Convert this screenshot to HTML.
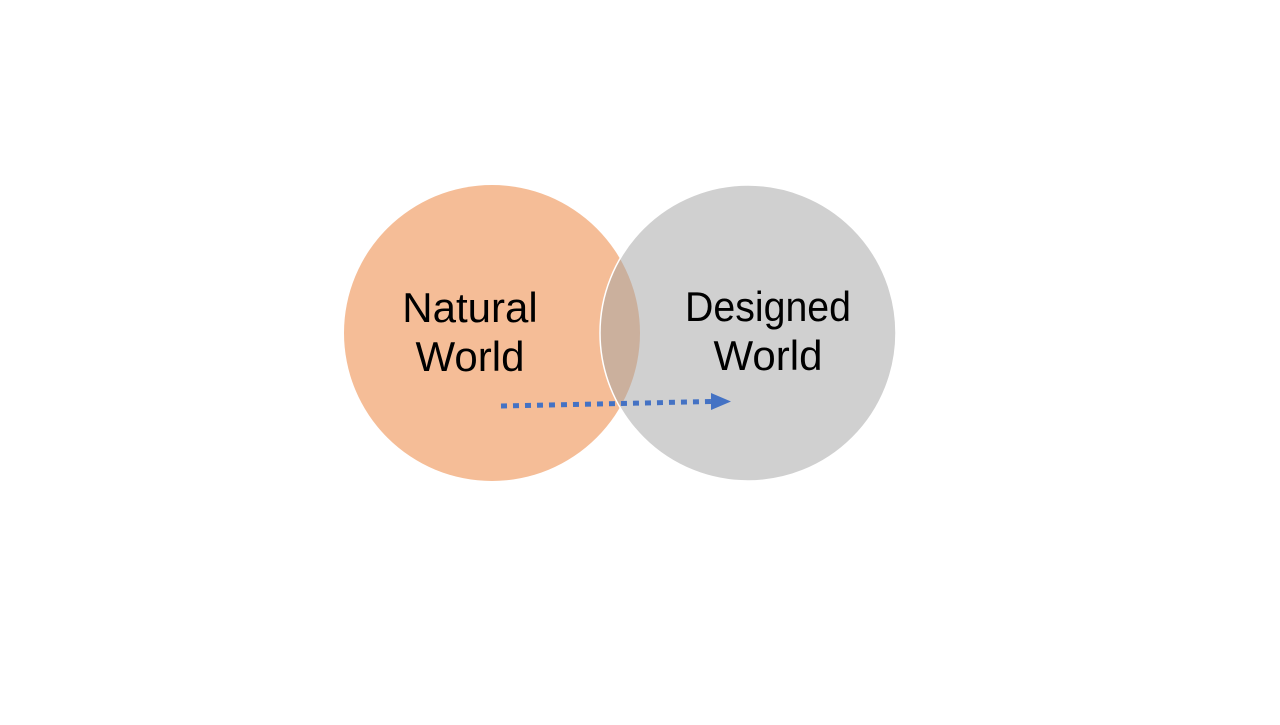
<!DOCTYPE html>
<html><head><style>html,body{margin:0;padding:0;background:#fff;}</style></head>
<body>
<svg width="1280" height="720" xmlns="http://www.w3.org/2000/svg">
<rect width="1280" height="720" fill="#fff"/>
<circle cx="492" cy="333" r="148" fill="#f5bd97"/>
<circle cx="748" cy="333" r="148" fill="rgb(164,164,164)" fill-opacity="0.515" stroke="#fff" stroke-width="1.5"/>
<g font-family="Liberation Sans, sans-serif" font-size="42" fill="#000" text-anchor="middle">
<text x="470" y="322">Natural</text>
<text x="470" y="371">World</text>
<text x="768" y="321" textLength="166" lengthAdjust="spacingAndGlyphs">Designed</text>
<text x="768" y="370">World</text>
</g>
<line x1="501" y1="406" x2="713" y2="401.5" stroke="#4472c4" stroke-width="5" stroke-dasharray="6 6"/>
<polygon points="711,393 731,401.5 711,410" fill="#4472c4"/>
</svg>
</body></html>
